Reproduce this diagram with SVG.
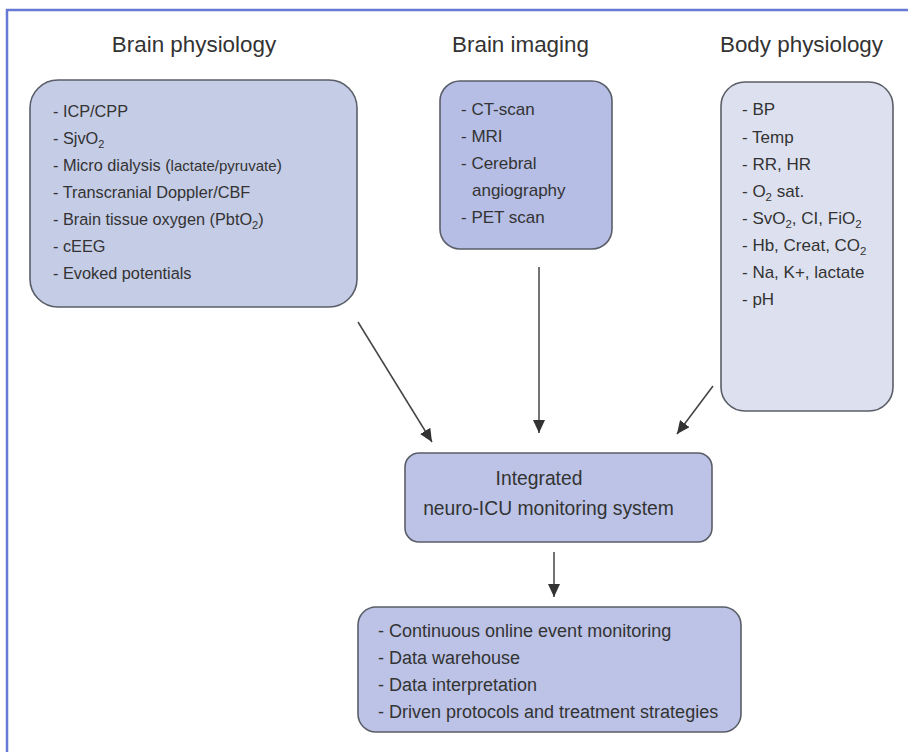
<svg xmlns="http://www.w3.org/2000/svg" width="908" height="752" viewBox="0 0 908 752">
  <defs>
    <style>
      .frame { fill: #ffffff; stroke: #6679d4; stroke-width: 2.5; }
      .box { stroke: #5a5e68; stroke-width: 1.6; }
      .phys { fill: #c5cce6; }
      .img { fill: #b6bee5; }
      .body { fill: #dde1ef; }
      .mid { fill: #bcc3e6; }
      text { font-family: "Liberation Sans", Arial, sans-serif; fill: #333333; }
      .title { font-size: 22.4px; text-anchor: middle; }
      .item16 { font-size: 16.3px; }
      .item17 { font-size: 17px; }
      .item18 { font-size: 18px; }
      .center19 { font-size: 19.3px; text-anchor: middle; }
      .conn { stroke: #444444; stroke-width: 1.5; fill: none; marker-end: url(#arrow); }
    </style>
    <marker id="arrow" markerUnits="userSpaceOnUse" markerWidth="14" markerHeight="12" viewBox="0 0 14 12" refX="13" refY="6" orient="auto">
      <path d="M0,0 L13,6 L0,12 Z" fill="#333333"/>
    </marker>
  </defs>

  <!-- page frame -->
  <rect class="frame" x="7" y="10" width="920" height="760"/>

  <!-- column titles -->
  <g id="titles">
    <text class="title" x="194" y="52">Brain physiology</text>
    <text class="title" x="520.5" y="52">Brain imaging</text>
    <text class="title" x="801.5" y="52">Body physiology</text>
  </g>

  <g id="brain-physiology">
    <rect class="box phys" x="30" y="80" width="327" height="227" rx="28"/>
    <text class="item16" x="53" y="117">- ICP/CPP</text>
    <text class="item16" x="53" y="144">- SjvO<tspan font-size="11" dy="4">2</tspan></text>
    <text class="item16" x="53" y="171">- Micro dialysis (<tspan font-size="15">lactate/pyruvate</tspan>)</text>
    <text class="item16" x="53" y="198">- Transcranial Doppler/CBF</text>
    <text class="item16" x="53" y="225">- Brain tissue oxygen (PbtO<tspan font-size="11" dy="4">2</tspan><tspan dy="-4">)</tspan></text>
    <text class="item16" x="53" y="252">- cEEG</text>
    <text class="item16" x="53" y="279">- Evoked potentials</text>
  </g>

  <g id="brain-imaging">
    <rect class="box img" x="440" y="81" width="172" height="168" rx="20"/>
    <text class="item17" x="461" y="115">- CT-scan</text>
    <text class="item17" x="461" y="142">- MRI</text>
    <text class="item17" x="461" y="169">- Cerebral</text>
    <text class="item17" x="472" y="196">angiography</text>
    <text class="item17" x="461" y="223">- PET scan</text>
  </g>

  <g id="body-physiology">
    <rect class="box body" x="721" y="82" width="172" height="329" rx="24"/>
    <text class="item17" x="742" y="115">- BP</text>
    <text class="item17" x="742" y="143">- Temp</text>
    <text class="item17" x="742" y="170">- RR, HR</text>
    <text class="item17" x="742" y="197">- O<tspan font-size="11.5" dy="4">2</tspan><tspan dy="-4"> sat.</tspan></text>
    <text class="item17" x="742" y="224">- SvO<tspan font-size="11.5" dy="4">2</tspan><tspan dy="-4">, CI, FiO</tspan><tspan font-size="11.5" dy="4">2</tspan></text>
    <text class="item17" x="742" y="251">- Hb, Creat, CO<tspan font-size="11.5" dy="4">2</tspan></text>
    <text class="item17" x="742" y="278">- Na, K+, lactate</text>
    <text class="item17" x="742" y="305">- pH</text>
  </g>

  <g id="integrated-system">
    <rect class="box mid" x="405" y="453" width="307" height="89" rx="14"/>
    <text class="center19" x="539" y="485">Integrated</text>
    <text class="center19" x="548.5" y="515">neuro-ICU monitoring system</text>
  </g>

  <g id="outputs">
    <rect class="box mid" x="358" y="607" width="383" height="125" rx="18"/>
    <text class="item18" x="378" y="637">- Continuous online event monitoring</text>
    <text class="item18" x="378" y="664">- Data warehouse</text>
    <text class="item18" x="378" y="691">- Data interpretation</text>
    <text class="item18" x="378" y="718">- Driven protocols and treatment strategies</text>
  </g>

  <g id="connectors">
    <line class="conn" x1="358" y1="322" x2="432" y2="442"/>
    <line class="conn" x1="539" y1="267" x2="539" y2="433"/>
    <line class="conn" x1="713" y1="386" x2="677" y2="434"/>
    <line class="conn" x1="554" y1="552" x2="554" y2="597"/>
  </g>
</svg>
